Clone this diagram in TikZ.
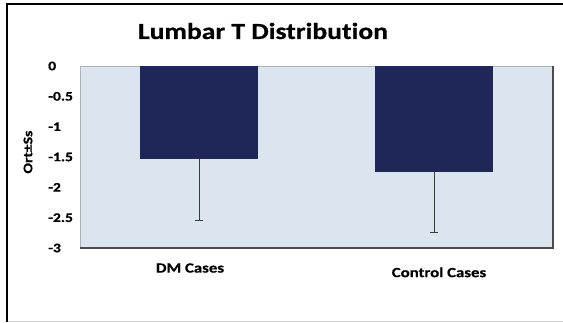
\documentclass[tikz,border=0pt]{standalone}
\usepackage{fontspec}
\setmainfont{Carlito}[FakeStretch=1.2, Ligatures=NoCommon,
  BoldFeatures={FakeBold=0.6}]
\usepackage{tikz}
\usetikzlibrary{positioning}

\definecolor{barnavy}{RGB}{31,38,88}
\definecolor{plotbg}{RGB}{219,229,240}
\definecolor{errgray}{RGB}{60,60,60}

\begin{document}
\begin{tikzpicture}[x=1pt, y=1pt, bar/.style={fill=barnavy},
    errbar/.style={draw=errgray, line width=0.8pt},
    ticklabel/.style={anchor=west, inner sep=0pt,
      font=\fontsize{13pt}{15pt}\selectfont\bfseries},
    catlabel/.style={inner sep=0pt, font=\fontsize{14pt}{16pt}\selectfont\bfseries},
    titlelabel/.style={font=\fontsize{23pt}{27pt}\selectfont\bfseries} ]

    \useasboundingbox (0,0) rectangle (563,322);

    % Outer frame
    \draw[line width=2pt] (6.5,0) -- (6.5,318) -- (563,318);
    \draw[gray!35, line width=1pt] (7.5,1) -- (563,1);

    % Title
    \node[titlelabel] (title) at (263,291) {Lumbar T Distribution};

    % Plot area, y in data units
    \begin{scope}[shift={(80,256)}, y=60.67pt]
    \fill[plotbg] (0,0) rectangle (473,-3);
    \draw[gray!60, line width=0.6pt] (0,-3) -- (0,0) -- (473,0);
    \draw[black!70, line width=1.5pt] (0,-3) -- (473,-3) -- (473,0);

    % Bars
    \fill[bar] (60,0) rectangle (178,-1.53);
    \fill[bar] (295,0) rectangle (413,-1.75);

    % Error bars
    \coordinate (dmbase) at (119,-1.53); \coordinate (dmerr) at (119,-2.54);
    \coordinate (ctbase) at (354,-1.75); \coordinate (cterr) at (354,-2.75);
    \draw[errbar] (dmbase) -- (dmerr) ++(-4,0) -- ++(8,0);
    \draw[errbar] (ctbase) -- (cterr) ++(-4,0) -- ++(8,0);

    % Tick labels
    \foreach \v [count=\i] in {0,-0.5,-1,-1.5,-2,-2.5,-3}
      \node[ticklabel] (tick\i) at (-32,\v) {\v};

    % Axis and category labels
    \node[ticklabel, anchor=center, rotate=90] (ylabel) at (-52,-1.42) {Ort±Ss};
    \node[catlabel] (dmlabel) at (110,-3.33) {DM Cases};
    \node[catlabel] (ctlabel) at (359,-3.40) {Control Cases};
    \end{scope}

\end{tikzpicture}
\end{document}
